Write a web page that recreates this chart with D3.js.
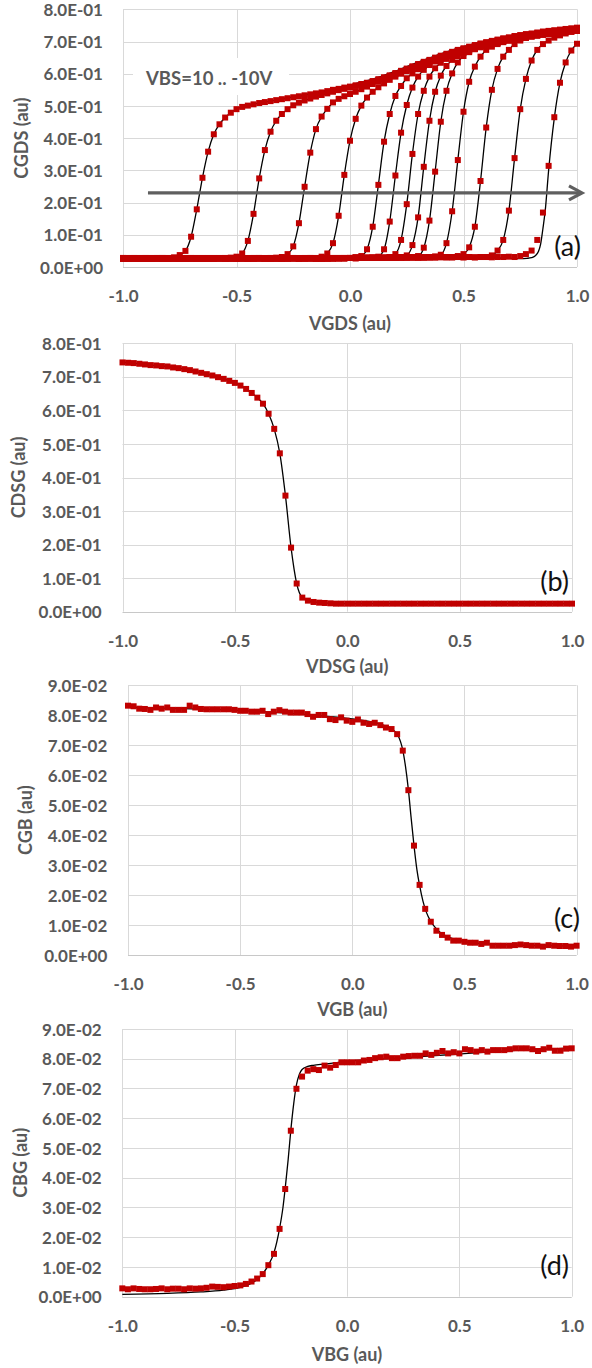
<!DOCTYPE html>
<html>
<head>
<meta charset="utf-8">
<script src="https://cdn.jsdelivr.net/npm/d3@7"></script>
<style>
  body { margin: 0; background: #fff; }
  svg { display: block; }
</style>
</head>
<body>
<div id="chart"></div>
<script>
// gate / drain sweep, the same grid for every panel (au)
const sweepStart = -1, sweepStep = 0.025, sweepCount = 81;
const sweep = d3.range(sweepCount).map(i => +(sweepStart + i * sweepStep).toFixed(3));

const xTicks = [-1, -0.5, 0, 0.5, 1];
const yTicksCap = [0, 0.1, 0.2, 0.3, 0.4, 0.5, 0.6, 0.7, 0.8];
const yTicksSmall = [0, 0.01, 0.02, 0.03, 0.04, 0.05, 0.06, 0.07, 0.08, 0.09];

// (a) CGDS vs VGDS, one curve per body bias
const vbsLevels = [10, 8, 6, 4, 2, 1, 0, -1, -2, -4, -6, -8, -10];
const cgdsVbs10 = [
  0.028,0.027,0.028,0.027,0.027,0.028,0.027,0.028,0.028,0.030,
  0.037,0.050,0.094,0.179,0.277,0.358,0.412,0.443,0.464,0.479,
  0.490,0.497,0.501,0.505,0.509,0.512,0.515,0.518,0.521,0.524,
  0.527,0.530,0.533,0.536,0.539,0.542,0.546,0.550,0.553,0.557,
  0.560,0.564,0.568,0.572,0.577,0.583,0.589,0.595,0.602,0.609,
  0.616,0.623,0.630,0.637,0.643,0.650,0.656,0.662,0.668,0.674,
  0.679,0.684,0.689,0.694,0.698,0.702,0.706,0.710,0.713,0.717,
  0.720,0.723,0.725,0.728,0.731,0.733,0.735,0.737,0.739,0.741,0.743];
const cgdsVbs8 = [
  0.027,0.026,0.027,0.028,0.027,0.026,0.027,0.027,0.026,0.027,
  0.027,0.026,0.027,0.027,0.028,0.027,0.026,0.027,0.028,0.029,
  0.032,0.042,0.081,0.165,0.275,0.363,0.420,0.454,0.475,0.490,
  0.502,0.510,0.517,0.523,0.529,0.534,0.539,0.544,0.549,0.553,
  0.557,0.562,0.566,0.571,0.576,0.581,0.587,0.593,0.600,0.607,
  0.614,0.621,0.628,0.635,0.641,0.648,0.654,0.660,0.666,0.672,
  0.677,0.682,0.687,0.692,0.696,0.700,0.704,0.708,0.711,0.715,
  0.718,0.721,0.723,0.726,0.729,0.731,0.733,0.735,0.737,0.739,0.741];
const cgdsVbs6 = [
  0.028,0.027,0.027,0.026,0.027,0.028,0.027,0.026,0.027,0.027,
  0.026,0.027,0.028,0.027,0.027,0.026,0.027,0.027,0.028,0.027,
  0.026,0.027,0.027,0.028,0.027,0.027,0.028,0.029,0.031,0.040,
  0.064,0.136,0.249,0.355,0.428,0.467,0.491,0.511,0.522,0.530,
  0.537,0.544,0.552,0.560,0.568,0.576,0.584,0.591,0.598,0.605,
  0.612,0.619,0.626,0.633,0.639,0.646,0.652,0.658,0.664,0.670,
  0.675,0.680,0.685,0.690,0.694,0.698,0.702,0.706,0.709,0.713,
  0.716,0.719,0.721,0.724,0.727,0.729,0.731,0.733,0.735,0.737,0.739];
const cgdsVbs4 = [
  0.027,0.028,0.027,0.027,0.026,0.027,0.028,0.027,0.027,0.026,
  0.027,0.027,0.028,0.027,0.026,0.027,0.027,0.028,0.027,0.027,
  0.026,0.027,0.028,0.027,0.027,0.026,0.027,0.028,0.027,0.027,
  0.027,0.026,0.027,0.027,0.028,0.032,0.042,0.074,0.159,0.286,
  0.392,0.460,0.501,0.526,0.544,0.558,0.570,0.581,0.591,0.600,
  0.608,0.616,0.623,0.631,0.637,0.644,0.650,0.656,0.662,0.668,
  0.673,0.678,0.683,0.688,0.692,0.696,0.700,0.704,0.707,0.711,
  0.714,0.717,0.719,0.722,0.725,0.727,0.729,0.731,0.733,0.735,0.737];
const cgdsVbs2 = [
  0.026,0.027,0.027,0.028,0.027,0.027,0.026,0.027,0.028,0.027,
  0.027,0.028,0.027,0.026,0.027,0.027,0.028,0.027,0.027,0.026,
  0.027,0.028,0.027,0.027,0.028,0.027,0.026,0.027,0.027,0.028,
  0.027,0.027,0.028,0.027,0.026,0.027,0.028,0.027,0.027,0.028,
  0.028,0.030,0.034,0.055,0.125,0.255,0.389,0.475,0.531,0.562,
  0.586,0.601,0.614,0.624,0.633,0.641,0.648,0.654,0.660,0.666,
  0.671,0.676,0.681,0.686,0.690,0.694,0.698,0.702,0.705,0.709,
  0.712,0.715,0.717,0.720,0.723,0.725,0.727,0.729,0.731,0.733,0.735];
const cgdsVbs1 = [
  0.027,0.027,0.026,0.027,0.028,0.027,0.027,0.026,0.027,0.028,
  0.027,0.027,0.026,0.027,0.028,0.027,0.027,0.027,0.026,0.027,
  0.028,0.027,0.027,0.026,0.027,0.028,0.027,0.027,0.026,0.027,
  0.028,0.027,0.027,0.028,0.027,0.026,0.027,0.028,0.027,0.027,
  0.028,0.027,0.028,0.029,0.028,0.032,0.055,0.141,0.284,0.417,
  0.503,0.557,0.591,0.612,0.627,0.638,0.647,0.654,0.661,0.667,
  0.672,0.677,0.682,0.686,0.690,0.694,0.698,0.702,0.705,0.708,
  0.711,0.714,0.717,0.720,0.723,0.725,0.727,0.729,0.731,0.733,0.735];
const cgdsVbs0 = [
  0.028,0.027,0.027,0.026,0.027,0.027,0.028,0.027,0.026,0.027,
  0.027,0.028,0.027,0.027,0.026,0.027,0.028,0.027,0.027,0.027,
  0.026,0.027,0.027,0.028,0.027,0.027,0.026,0.027,0.028,0.027,
  0.027,0.026,0.027,0.028,0.027,0.027,0.027,0.026,0.028,0.027,
  0.028,0.027,0.028,0.028,0.029,0.028,0.029,0.031,0.040,0.084,
  0.195,0.351,0.475,0.547,0.591,0.617,0.634,0.646,0.655,0.663,
  0.669,0.675,0.680,0.685,0.689,0.693,0.697,0.701,0.704,0.707,
  0.710,0.713,0.716,0.719,0.722,0.724,0.726,0.728,0.730,0.732,0.734];
const cgdsVbsM1 = [
  0.027,0.026,0.027,0.027,0.028,0.027,0.027,0.026,0.027,0.027,
  0.028,0.027,0.026,0.027,0.027,0.028,0.027,0.027,0.026,0.027,
  0.027,0.028,0.027,0.026,0.027,0.027,0.028,0.027,0.027,0.026,
  0.027,0.028,0.027,0.027,0.026,0.027,0.027,0.028,0.027,0.028,
  0.028,0.028,0.029,0.028,0.028,0.029,0.028,0.029,0.029,0.031,
  0.036,0.068,0.154,0.311,0.454,0.544,0.594,0.624,0.643,0.655,
  0.664,0.671,0.677,0.682,0.687,0.691,0.695,0.699,0.703,0.706,
  0.709,0.712,0.715,0.718,0.721,0.723,0.725,0.727,0.729,0.731,0.733];
const cgdsVbsM2 = [
  0.026,0.027,0.028,0.027,0.027,0.026,0.027,0.028,0.027,0.027,
  0.027,0.026,0.027,0.028,0.027,0.027,0.026,0.027,0.027,0.028,
  0.027,0.027,0.026,0.027,0.028,0.027,0.027,0.027,0.026,0.027,
  0.028,0.027,0.027,0.026,0.027,0.028,0.027,0.027,0.028,0.027,
  0.028,0.029,0.028,0.028,0.029,0.028,0.029,0.028,0.029,0.029,
  0.030,0.031,0.034,0.060,0.144,0.296,0.451,0.547,0.601,0.635,
  0.655,0.667,0.676,0.683,0.689,0.694,0.698,0.702,0.706,0.709,
  0.712,0.715,0.718,0.720,0.722,0.724,0.726,0.728,0.730,0.732,0.734];
const cgdsVbsM4 = [
  0.027,0.027,0.026,0.027,0.028,0.027,0.027,0.026,0.027,0.028,
  0.027,0.027,0.027,0.026,0.027,0.028,0.027,0.027,0.026,0.027,
  0.027,0.028,0.027,0.027,0.026,0.027,0.028,0.027,0.027,0.026,
  0.027,0.027,0.028,0.027,0.027,0.026,0.027,0.028,0.027,0.028,
  0.028,0.029,0.028,0.029,0.028,0.029,0.029,0.028,0.029,0.030,
  0.029,0.030,0.029,0.030,0.031,0.033,0.038,0.074,0.173,0.332,
  0.482,0.575,0.622,0.653,0.674,0.684,0.692,0.698,0.703,0.707,
  0.711,0.714,0.717,0.720,0.722,0.725,0.727,0.729,0.731,0.733,0.735];
const cgdsVbsM6 = [
  0.028,0.027,0.027,0.026,0.027,0.027,0.028,0.027,0.026,0.027,
  0.027,0.028,0.027,0.027,0.027,0.026,0.027,0.028,0.027,0.027,
  0.026,0.027,0.027,0.028,0.027,0.027,0.026,0.027,0.027,0.028,
  0.027,0.027,0.026,0.027,0.028,0.027,0.027,0.027,0.028,0.027,
  0.028,0.028,0.029,0.028,0.029,0.029,0.028,0.029,0.030,0.029,
  0.030,0.029,0.030,0.030,0.029,0.030,0.031,0.030,0.031,0.034,
  0.040,0.061,0.125,0.267,0.433,0.550,0.615,0.653,0.674,0.692,
  0.703,0.711,0.717,0.721,0.724,0.727,0.729,0.731,0.733,0.735,0.737];
const cgdsVbsM8 = [
  0.027,0.028,0.027,0.027,0.026,0.027,0.027,0.028,0.027,0.027,
  0.026,0.027,0.028,0.027,0.027,0.027,0.026,0.027,0.028,0.027,
  0.027,0.026,0.027,0.027,0.028,0.027,0.027,0.026,0.027,0.028,
  0.027,0.027,0.027,0.028,0.027,0.026,0.027,0.028,0.027,0.028,
  0.028,0.029,0.028,0.029,0.029,0.028,0.029,0.030,0.029,0.029,
  0.030,0.030,0.029,0.030,0.031,0.030,0.030,0.031,0.030,0.031,
  0.030,0.031,0.030,0.031,0.031,0.036,0.051,0.084,0.175,0.338,
  0.490,0.584,0.641,0.674,0.692,0.703,0.712,0.719,0.725,0.730,0.735];
const cgdsVbsM10 = [
  0.027,0.027,0.028,0.027,0.026,0.027,0.027,0.028,0.027,0.027,
  0.027,0.026,0.027,0.028,0.027,0.027,0.026,0.027,0.027,0.028,
  0.027,0.027,0.026,0.027,0.028,0.027,0.027,0.027,0.026,0.027,
  0.028,0.027,0.027,0.028,0.027,0.027,0.026,0.027,0.028,0.028,
  0.028,0.029,0.028,0.028,0.029,0.029,0.028,0.029,0.029,0.030,
  0.029,0.030,0.030,0.029,0.030,0.030,0.031,0.030,0.030,0.031,
  0.030,0.031,0.030,0.031,0.031,0.030,0.031,0.031,0.032,0.031,
  0.034,0.040,0.051,0.084,0.169,0.314,0.465,0.572,0.635,0.672,0.693];
const cgdsCurves = [cgdsVbs10, cgdsVbs8, cgdsVbs6, cgdsVbs4, cgdsVbs2, cgdsVbs1, cgdsVbs0,
  cgdsVbsM1, cgdsVbsM2, cgdsVbsM4, cgdsVbsM6, cgdsVbsM8, cgdsVbsM10];
// model lines that differ from the measured points: the common upper branch and the -10 V knee
const cgdsFitTop = [[-0.3,0.522],[-0.2,0.535],[-0.1,0.549],[0,0.565],[0.1,0.583],[0.2,0.608],
  [0.3,0.636],[0.4,0.662],[0.5,0.684],[0.6,0.702],[0.7,0.716],[0.8,0.727],[0.9,0.736],[1,0.744]];
const cgdsFitLast = [[0.6,0.029],[0.7,0.027],[0.75,0.026],[0.78,0.027],[0.8,0.029],[0.815,0.034],
  [0.83,0.048],[0.84,0.072],[0.85,0.12],[0.86,0.175],[0.875,0.3],[0.9,0.462],[0.925,0.572],
  [0.95,0.635],[0.975,0.672],[1,0.693]];

// (b) CDSG vs VDSG
const cdsg = [
  0.743,0.742,0.741,0.739,0.737,0.735,0.734,0.732,0.731,0.728,
  0.726,0.723,0.720,0.716,0.712,0.708,0.704,0.699,0.694,0.688,
  0.682,0.674,0.664,0.652,0.638,0.620,0.590,0.545,0.472,0.346,
  0.191,0.084,0.042,0.033,0.029,0.027,0.026,0.025,0.024,0.024,
  0.024,0.024,0.024,0.024,0.024,0.024,0.024,0.024,0.024,0.024,
  0.024,0.024,0.024,0.024,0.024,0.024,0.024,0.024,0.024,0.024,
  0.024,0.024,0.024,0.024,0.024,0.024,0.024,0.024,0.024,0.024,
  0.024,0.024,0.024,0.024,0.024,0.024,0.024,0.024,0.024,0.024,0.024];

// (c) CGB vs VGB
const cgb = [
  0.0832,0.0830,0.0822,0.0821,0.0818,0.0826,0.0822,0.0826,0.0818,0.0818,
  0.0818,0.0832,0.0826,0.0821,0.0820,0.0820,0.0820,0.0820,0.0820,0.0818,
  0.0815,0.0815,0.0812,0.0812,0.0815,0.0804,0.0812,0.0817,0.0812,0.0809,
  0.0809,0.0809,0.0804,0.0795,0.0801,0.0801,0.0787,0.0784,0.0793,0.0782,
  0.0778,0.0786,0.0775,0.0771,0.0775,0.0767,0.0759,0.0754,0.0737,0.0682,
  0.0550,0.0365,0.0234,0.0154,0.0111,0.0081,0.0067,0.0058,0.0048,0.0048,
  0.0044,0.0041,0.0041,0.0037,0.0041,0.0031,0.0031,0.0031,0.0031,0.0033,
  0.0035,0.0033,0.0031,0.0031,0.0028,0.0033,0.0031,0.0030,0.0030,0.0028,0.0031];
const cgbFit = [[-1,0.0826],[-0.8,0.0823],[-0.6,0.0819],[-0.4,0.0812],[-0.2,0.0802],[0,0.0788],
  [0.1,0.0776],[0.15,0.0764],[0.18,0.0752],[0.2,0.0738],[0.215,0.0712],[0.225,0.0684],[0.237,0.063],
  [0.25,0.0552],[0.262,0.046],[0.275,0.0366],[0.288,0.0285],[0.3,0.0232],[0.315,0.018],[0.33,0.0143],
  [0.35,0.0112],[0.375,0.0087],[0.4,0.0071],[0.45,0.0054],[0.5,0.0045],[0.6,0.0037],[0.8,0.0032],[1,0.003]];

// (d) CBG vs VBG
const cbg = [
  0.0028,0.0025,0.0028,0.0026,0.0025,0.0025,0.0026,0.0028,0.0025,0.0027,
  0.0027,0.0025,0.0028,0.0027,0.0028,0.0030,0.0034,0.0033,0.0032,0.0034,
  0.0036,0.0038,0.0043,0.0051,0.0061,0.0076,0.0106,0.0144,0.0228,0.0362,
  0.0558,0.0699,0.0740,0.0760,0.0765,0.0762,0.0777,0.0770,0.0779,0.0788,
  0.0788,0.0788,0.0788,0.0794,0.0796,0.0802,0.0805,0.0807,0.0802,0.0802,
  0.0807,0.0809,0.0810,0.0810,0.0818,0.0813,0.0820,0.0826,0.0818,0.0822,
  0.0818,0.0832,0.0829,0.0824,0.0829,0.0824,0.0829,0.0829,0.0829,0.0832,
  0.0835,0.0835,0.0835,0.0832,0.0826,0.0832,0.0837,0.0827,0.0827,0.0834,0.0835];
const cbgFit = [[-1,0.0008],[-0.8,0.0011],[-0.65,0.0016],[-0.55,0.0022],[-0.5,0.0027],[-0.45,0.0037],
  [-0.4,0.0058],[-0.375,0.0077],[-0.35,0.0106],[-0.325,0.0148],[-0.3,0.023],[-0.285,0.03],[-0.275,0.0365],
  [-0.262,0.046],[-0.25,0.056],[-0.237,0.065],[-0.225,0.0712],[-0.212,0.0748],[-0.2,0.0764],[-0.175,0.0774],
  [-0.15,0.0778],[-0.1,0.0782],[0,0.0791],[0.25,0.0803],[0.5,0.0816],[0.75,0.0828],[1,0.0836]];

const W = 592, H = 1368;
const grey = "#595959", red = "#c00000", gridColor = "#d9d9d9";
const font = "Lato, 'Open Sans', sans-serif";

const svg = d3.select("#chart").append("svg").attr("width", W).attr("height", H);

// Excel style scientific labels: 8.0E-01
const sci = v => {
  const [m, e] = v.toExponential(1).split("e");
  const n = +e;
  return m + "E" + (n < 0 ? "-" : "+") + String(Math.abs(n)).padStart(2, "0");
};

function drawPanel(p) {
  const x = d3.scaleLinear().domain([-1, 1]).range([p.left, p.right]);
  const y = d3.scaleLinear().domain([0, p.yMax]).range([p.bottom, p.top]);
  const snap = v => Math.round(v) + 0.5;
  const g = svg.append("g");

  g.append("g").selectAll("line").data(p.yTicks).join("line")
    .attr("x1", p.left).attr("x2", p.right)
    .attr("y1", d => snap(y(d))).attr("y2", d => snap(y(d)))
    .attr("stroke", d => d === 0 ? "#c8c8c8" : gridColor);
  g.append("g").selectAll("line").data(xTicks).join("line")
    .attr("x1", d => snap(x(d))).attr("x2", d => snap(x(d)))
    .attr("y1", p.top).attr("y2", p.bottom)
    .attr("stroke", gridColor);

  const ya = g.append("g").attr("transform", `translate(${p.left},0)`)
    .call(d3.axisLeft(y).tickValues(p.yTicks).tickFormat(sci).tickSize(0)
      .tickPadding(p.left - p.labelRight));
  ya.select(".domain").remove();
  ya.selectAll("text").attr("fill", grey).attr("font-family", font)
    .attr("font-size", 17).attr("font-weight", 700).attr("dy", "0.36em");

  const xa = g.append("g").attr("transform", `translate(0,${p.bottom})`)
    .call(d3.axisBottom(x).tickValues(xTicks).tickFormat(v => v.toFixed(1)).tickSize(0)
      .tickPadding(p.tickBase - 0.71 * 17));
  xa.select(".domain").remove();
  xa.selectAll("text").attr("fill", grey).attr("font-family", font)
    .attr("font-size", 17).attr("font-weight", 700);

  g.append("text").attr("x", (p.left + p.right) / 2).attr("y", p.titleBase)
    .attr("text-anchor", "middle").attr("fill", grey).attr("font-family", font)
    .attr("font-size", 18).attr("font-weight", 700).text(p.xTitle);
  g.append("text")
    .attr("transform", `translate(${p.yTitleX},${(p.top + p.bottom) / 2}) rotate(-90)`)
    .attr("text-anchor", "middle").attr("fill", grey).attr("font-family", font)
    .attr("font-size", 18).attr("font-weight", 700).text(p.yTitle);

  return { g, x, y };
}

function fitLine(P, pts) {
  P.g.append("path").datum(pts)
    .attr("d", d3.line().x(d => P.x(d[0])).y(d => P.y(d[1])).curve(d3.curveMonotoneX))
    .attr("fill", "none").attr("stroke", "#000").attr("stroke-width", 1.3);
}
function markers(P, vals) {
  P.g.append("g").selectAll("rect").data(vals).join("rect")
    .attr("x", (d, i) => P.x(sweep[i]) - 3).attr("y", d => P.y(d) - 3)
    .attr("width", 6).attr("height", 6).attr("fill", red);
}
function tag(P, t, xPos, yBase) {
  P.g.append("text").attr("x", xPos).attr("y", yBase).attr("text-anchor", "end")
    .attr("fill", "#111").attr("font-family", font).attr("font-size", 27).text(t);
}
const pairs = vals => vals.map((v, i) => [sweep[i], v]);

// ---- (a)
const A = drawPanel({ left: 123, right: 577, top: 9.3, bottom: 267, yMax: 0.8, yTicks: yTicksCap,
  labelRight: 103, tickBase: 35, titleBase: 330, yTitleX: 28, xTitle: "VGDS (au)", yTitle: "CGDS (au)" });
A.g.append("rect").attr("x", 133).attr("y", 58).attr("width", 156).attr("height", 37).attr("fill", "#fff");
A.g.append("text").attr("x", 146).attr("y", 85).attr("fill", grey).attr("font-family", font)
  .attr("font-size", 18.5).attr("font-weight", 700).text("VBS=10 .. -10V");
cgdsCurves.forEach((c, k) => { if (k < cgdsCurves.length - 1) fitLine(A, pairs(c)); });
fitLine(A, cgdsFitLast);
fitLine(A, cgdsFitTop);
cgdsCurves.forEach(c => markers(A, c));
const arrowY = A.y(0.23), arrowX0 = A.x(-0.89), arrowX1 = A.x(1.022);
A.g.append("line").attr("x1", arrowX0).attr("x2", arrowX1 - 1).attr("y1", arrowY).attr("y2", arrowY)
  .attr("stroke", "#5f5f5f").attr("stroke-width", 3.2);
A.g.append("path").attr("d", `M${arrowX1 - 13},${arrowY - 7} L${arrowX1},${arrowY} L${arrowX1 - 13},${arrowY + 7}`)
  .attr("fill", "none").attr("stroke", "#5f5f5f").attr("stroke-width", 3.2);
tag(A, "(a)", 581, 256);

// ---- (b)
const B = drawPanel({ left: 122.5, right: 572, top: 343.3, bottom: 611.7, yMax: 0.8, yTicks: yTicksCap,
  labelRight: 101.7, tickBase: 35, titleBase: 673, yTitleX: 25, xTitle: "VDSG (au)", yTitle: "CDSG (au)" });
fitLine(B, pairs(cdsg));
markers(B, cdsg);
tag(B, "(b)", 569, 591);

// ---- (c)
const C = drawPanel({ left: 128, right: 576.6, top: 685.3, bottom: 955, yMax: 0.09, yTicks: yTicksSmall,
  labelRight: 107.3, tickBase: 35, titleBase: 1016, yTitleX: 31.7, xTitle: "VGB (au)", yTitle: "CGB (au)" });
fitLine(C, cgbFit);
markers(C, cgb);
tag(C, "(c)", 580, 928);

// ---- (d)
const D = drawPanel({ left: 122.3, right: 571.7, top: 1029, bottom: 1296.7, yMax: 0.09, yTicks: yTicksSmall,
  labelRight: 101.7, tickBase: 35, titleBase: 1361, yTitleX: 26.7, xTitle: "VBG (au)", yTitle: "CBG (au)" });
fitLine(D, cbgFit);
markers(D, cbg);
tag(D, "(d)", 569, 1275);
</script>
</body>
</html>
